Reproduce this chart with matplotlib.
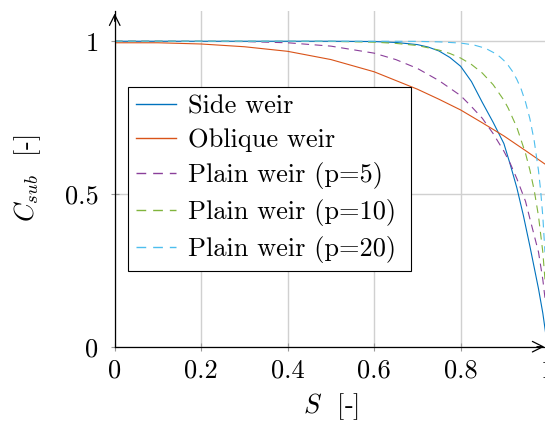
import matplotlib
matplotlib.use('Agg')
import matplotlib.pyplot as plt

plt.rcParams['font.family'] = 'cmr10'
plt.rcParams['mathtext.fontset'] = 'cm'
plt.rcParams['axes.formatter.use_mathtext'] = True
plt.rcParams['font.size'] = 19

# values
s_side = [0, 0.3, 0.5, 0.6, 0.65, 0.7, 0.725, 0.75, 0.775, 0.8, 0.825, 0.85, 0.875, 0.9,
          0.915, 0.93, 0.945, 0.96, 0.97, 0.98, 0.99, 0.998]
c_side = [1.0, 1.0, 1.0, 0.999, 0.996, 0.989, 0.981, 0.968, 0.947, 0.918, 0.868, 0.80, 0.735, 0.665,
          0.595, 0.52, 0.43, 0.33, 0.26, 0.19, 0.11, 0.03]

s_obl = [0, 0.1, 0.2, 0.3, 0.4, 0.5, 0.6, 0.7, 0.75, 0.8, 0.85, 0.9, 0.95, 1.0]
c_obl = [0.995, 0.995, 0.991, 0.982, 0.967, 0.94, 0.90, 0.843, 0.81, 0.775, 0.733, 0.69, 0.642, 0.593]

s_p5 = [0, 0.3, 0.4, 0.5, 0.6, 0.65, 0.7, 0.75, 0.8, 0.825, 0.85, 0.875, 0.9, 0.915, 0.93,
        0.95, 0.96, 0.98, 0.99, 0.995]
c_p5 = [1.0, 0.999, 0.995, 0.984, 0.961, 0.94, 0.911, 0.871, 0.822, 0.786, 0.748, 0.698, 0.640, 0.599, 0.55,
        0.476, 0.42, 0.31, 0.22, 0.16]

s_p10 = [0, 0.5, 0.6, 0.65, 0.7, 0.75, 0.775, 0.8, 0.825, 0.85, 0.875, 0.9, 0.91, 0.93, 0.95,
         0.96, 0.97, 0.98, 0.99, 0.995]
c_p10 = [1.0, 0.9995, 0.997, 0.993, 0.986, 0.971, 0.960, 0.945, 0.924, 0.896, 0.858, 0.807, 0.781, 0.718, 0.633,
         0.579, 0.513, 0.428, 0.31, 0.22]

s_p20 = [0, 0.6, 0.7, 0.75, 0.8, 0.83, 0.85, 0.86, 0.88, 0.89, 0.9, 0.91, 0.92, 0.93, 0.94, 0.95,
         0.96, 0.97, 0.98, 0.985, 0.99, 0.995]
c_p20 = [1.0, 1.0, 0.9996, 0.998, 0.994, 0.988, 0.980, 0.975, 0.960, 0.950, 0.937, 0.921, 0.901, 0.875, 0.843, 0.801,
         0.747, 0.675, 0.577, 0.511, 0.427, 0.309]

fig = plt.figure(figsize=(5.45, 4.28), dpi=100)
ax = fig.add_axes([0.2105, 0.190, 0.7934, 0.785])

lw = 0.8
dash = (7, 5)
ax.plot(s_side, c_side, color='#0072BD', lw=lw, label='Side weir')
ax.plot(s_obl, c_obl, color='#D95319', lw=lw, label='Oblique weir')
ax.plot(s_p5, c_p5, color='#8a3f9a', lw=lw, dashes=dash, label='Plain weir (p=5)')
ax.plot(s_p10, c_p10, color='#80b43c', lw=lw, dashes=dash, label='Plain weir (p=10)')
ax.plot(s_p20, c_p20, color='#4DBEEE', lw=lw, dashes=dash, label='Plain weir (p=20)')

ax.set_xlim(0, 1)
ax.set_ylim(0, 1.1)
ax.set_xticks([0, 0.2, 0.4, 0.6, 0.8, 1])
ax.set_xticklabels(['0', '0.2', '0.4', '0.6', '0.8', '1'])
ax.set_yticks([0, 0.5, 1])
ax.set_yticklabels(['0', '0.5', '1'])
ax.grid(True, color='#d0d0d0', lw=1.0)
ax.set_axisbelow(True)

for side in ['top', 'right']:
    ax.spines[side].set_visible(False)
for side in ['left', 'bottom']:
    ax.spines[side].set_linewidth(0.9)
ax.tick_params(direction='inout', length=6, width=0.8, color='#999999')
ax.tick_params(axis='x', pad=6)
ax.tick_params(axis='y', pad=8.7)

# axis arrows
ax.annotate('', xy=(1.0, 0), xytext=(0.97, 0), xycoords='axes fraction',
            arrowprops=dict(arrowstyle='->', lw=0.9, color='black'), annotation_clip=False)
ax.annotate('', xy=(0, 1.0), xytext=(0, 0.96), xycoords='axes fraction',
            arrowprops=dict(arrowstyle='->', lw=0.9, color='black'), annotation_clip=False)

ax.set_xlabel(r'$S$  [-]', labelpad=6)
ax.set_ylabel(r'$C_{sub}$  [-]', labelpad=16)

leg = ax.legend(loc='upper left', bbox_to_anchor=(0.0308, 0.773, 0.6545, 0), mode='expand',
                borderaxespad=0, fancybox=False, framealpha=1, edgecolor='black',
                handlelength=1.5, handletextpad=0.47, labelspacing=0.38, borderpad=0.3)
leg.get_frame().set_linewidth(0.8)
for h in leg.get_lines():
    h.set_linewidth(1.0)

fig.savefig('out.png', dpi=100)
